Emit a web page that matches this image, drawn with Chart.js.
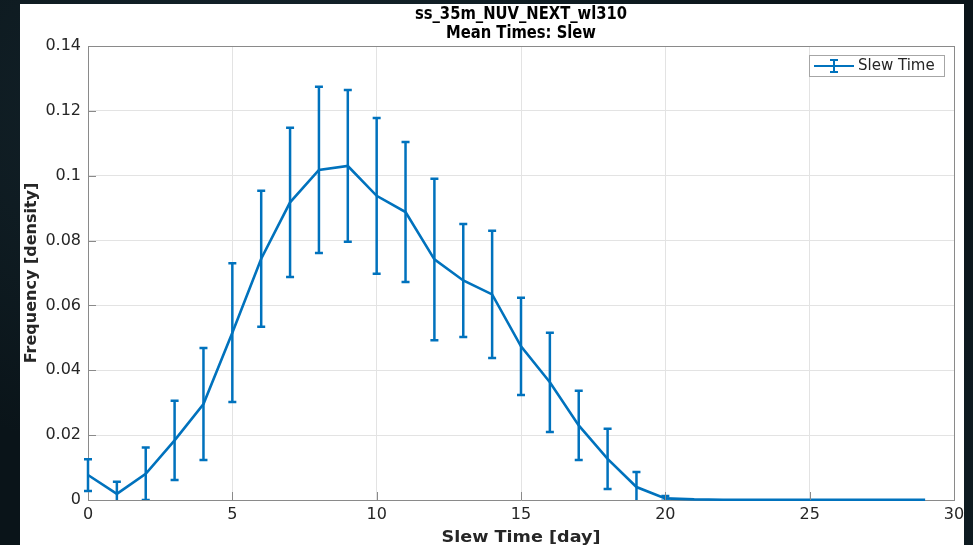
<!DOCTYPE html>
<html>
<head>
<meta charset="utf-8">
<title>ss_35m_NUV_NEXT_wl310 — Mean Times: Slew</title>
<script src="https://cdn.jsdelivr.net/npm/chart.js@4.4.1/dist/chart.umd.min.js"></script>
<style>
  html, body { margin: 0; padding: 0; width: 973px; height: 545px; overflow: hidden; }
  body {
    background:
      radial-gradient(ellipse at 30% 20%, rgba(30, 52, 62, 0.55), rgba(0,0,0,0) 60%),
      radial-gradient(ellipse at 80% 90%, rgba(22, 40, 48, 0.5), rgba(0,0,0,0) 55%),
      #0a1419;
    position: relative;
  }
  #sheet { position: absolute; left: 20px; top: 4px; width: 944px; height: 541px; background: #ffffff; }
  #wrap { position: absolute; left: 0; top: 0; width: 973px; height: 545px; }
</style>
</head>
<body>
<div id="sheet"></div>
<div id="wrap"><canvas id="chart" width="973" height="545"></canvas></div>
<script>
// Slew time histogram (density) with one-sigma spread per day bin
const days = [0, 1, 2, 3, 4, 5, 6, 7, 8, 9, 10, 11, 12, 13, 14, 15, 16, 17, 18, 19, 20, 21, 22, 23, 24, 25, 26, 27, 28, 29];
const meanFreq = [0.0077, 0.0019, 0.0081, 0.0184, 0.0296, 0.0516, 0.0744, 0.0918, 0.1018, 0.1030,
                  0.0938, 0.0888, 0.0742, 0.0677, 0.0634, 0.0474, 0.0363, 0.0230, 0.0127, 0.0040,
                  0.0005, 0.0002, 0.0001, 0.0001, 0.0001, 0.0001, 0.0001, 0.0001, 0.0001, 0.0001];
const spread = [0.0049, 0.0037, 0.0081, 0.0122, 0.0173, 0.0214, 0.0210, 0.0230, 0.0256, 0.0234,
                0.0240, 0.0216, 0.0249, 0.0174, 0.0196, 0.0150, 0.0153, 0.0107, 0.0093, 0.0046,
                0.0007, 0, 0, 0, 0, 0, 0, 0, 0, 0];
const xTicks = [0, 5, 10, 15, 20, 25, 30];
const yTicks = [0, 0.02, 0.04, 0.06, 0.08, 0.1, 0.12, 0.14];

const figTitle = ['ss_35m_NUV_NEXT_wl310', 'Mean Times: Slew'];
const xLabel = 'Slew Time [day]';
const yLabel = 'Frequency [density]';
const seriesName = 'Slew Time';

const BLUE = '#0072BD';
const AXIS = '#8a8a8a';
const TEXT = '#262626';

const points = days.map((d, i) => ({ x: d, y: meanFreq[i] }));

// Error bars, inner tick marks, figure titles and the boxed legend
const decorations = {
  id: 'decorations',
  afterDatasetsDraw(chart) {
    const { ctx, chartArea: a, scales: { x, y } } = chart;

    // vertical error bars with caps (bars are cut at the zero line)
    ctx.save();
    ctx.beginPath();
    ctx.rect(a.left - 6, a.top - 2, a.right - a.left + 12, a.bottom - a.top + 2);
    ctx.clip();
    ctx.strokeStyle = BLUE;
    ctx.lineWidth = 2.5;
    ctx.lineCap = 'butt';
    days.forEach((d, i) => {
      if (!spread[i]) return;
      const px = x.getPixelForValue(d);
      const yTop = y.getPixelForValue(meanFreq[i] + spread[i]);
      const yBot = y.getPixelForValue(meanFreq[i] - spread[i]);
      ctx.beginPath();
      ctx.moveTo(px, yTop); ctx.lineTo(px, yBot);
      ctx.moveTo(px - 4, yTop); ctx.lineTo(px + 4, yTop);
      ctx.moveTo(px - 4, yBot); ctx.lineTo(px + 4, yBot);
      ctx.stroke();
    });
    ctx.restore();

    // inward tick marks
    ctx.save();
    ctx.strokeStyle = AXIS;
    ctx.lineWidth = 1;
    xTicks.forEach(t => {
      const px = Math.round(x.getPixelForValue(t)) + 0.5;
      ctx.beginPath(); ctx.moveTo(px, a.bottom); ctx.lineTo(px, a.bottom - 8); ctx.stroke();
    });
    yTicks.forEach(t => {
      const py = Math.round(y.getPixelForValue(t)) + 0.5;
      ctx.beginPath(); ctx.moveTo(a.left, py); ctx.lineTo(a.left + 8, py); ctx.stroke();
    });
    ctx.restore();

    // figure title: two bold, slightly condensed lines
    const cx = (a.left + a.right) / 2;
    ctx.save();
    ctx.fillStyle = '#000000';
    ctx.textAlign = 'center';
    ctx.textBaseline = 'alphabetic';
    ctx.font = 'bold 18px "DejaVu Sans", sans-serif';
    ctx.translate(cx, 0);
    ctx.scale(0.82, 1);
    ctx.fillText(figTitle[0], 0, 19);
    ctx.fillText(figTitle[1], 0, 38);
    ctx.restore();

    // axis labels
    ctx.save();
    ctx.fillStyle = TEXT;
    ctx.textAlign = 'center';
    ctx.font = 'bold 16px "DejaVu Sans", sans-serif';
    ctx.save();
    ctx.translate(cx, 0);
    ctx.scale(1.1, 1);
    ctx.fillText(xLabel, 0, 542);
    ctx.restore();
    ctx.translate(36, (a.top + a.bottom) / 2);
    ctx.rotate(-Math.PI / 2);
    ctx.fillText(yLabel, 0, 0);
    ctx.restore();

    // legend box
    ctx.save();
    const lx = 809, ly = 55, lw = 135, lh = 21;
    ctx.fillStyle = '#ffffff';
    ctx.fillRect(lx, ly, lw, lh);
    ctx.strokeStyle = '#a6a6a6';
    ctx.lineWidth = 1;
    ctx.strokeRect(lx + 0.5, ly + 0.5, lw, lh);
    const my = ly + lh / 2 + 0.5;
    ctx.strokeStyle = BLUE;
    ctx.lineWidth = 2;
    ctx.beginPath();
    ctx.moveTo(lx + 5, my); ctx.lineTo(lx + 45, my);
    ctx.moveTo(lx + 25, my - 6); ctx.lineTo(lx + 25, my + 6);
    ctx.moveTo(lx + 21, my - 6); ctx.lineTo(lx + 29, my - 6);
    ctx.moveTo(lx + 21, my + 6); ctx.lineTo(lx + 29, my + 6);
    ctx.stroke();
    ctx.fillStyle = TEXT;
    ctx.font = '15px "DejaVu Sans", sans-serif';
    ctx.textAlign = 'left';
    ctx.textBaseline = 'middle';
    ctx.fillText(seriesName, lx + 49, my);
    ctx.restore();
  }
};

new Chart(document.getElementById('chart'), {
  type: 'line',
  data: {
    datasets: [{
      label: seriesName,
      data: points,
      borderColor: BLUE,
      backgroundColor: BLUE,
      borderWidth: 2.6,
      pointRadius: 0,
      tension: 0,
      clip: 2
    }]
  },
  options: {
    responsive: false,
    animation: false,
    devicePixelRatio: 1,
    layout: { padding: { left: 0, right: 19, top: 46, bottom: 0 } },
    plugins: { legend: { display: false }, title: { display: false }, tooltip: { enabled: false } },
    scales: {
      x: {
        type: 'linear',
        min: 0, max: 30,
        afterFit(s) { s.height = 45; },
        afterBuildTicks(s) { s.ticks = xTicks.map(v => ({ value: v })); },
        ticks: { color: TEXT, font: { family: 'DejaVu Sans', size: 16 }, padding: 5, maxRotation: 0 },
        grid: { color: '#e3e3e3', lineWidth: 1, drawTicks: false },
        border: { color: AXIS, width: 1 }
      },
      y: {
        type: 'linear',
        min: 0, max: 0.14,
        afterFit(s) { s.width = 88; },
        afterBuildTicks(s) { s.ticks = yTicks.map(v => ({ value: v })); },
        ticks: {
          color: TEXT, font: { family: 'DejaVu Sans', size: 16 }, padding: 7,
          callback: v => String(Number(v.toFixed(2)))
        },
        grid: { color: '#e3e3e3', lineWidth: 1, drawTicks: false },
        border: { color: AXIS, width: 1 }
      }
    }
  },
  plugins: [
    decorations,
    {
      id: 'frame',
      beforeDatasetsDraw(chart) {
        const { ctx, chartArea: a } = chart;
        ctx.save();
        ctx.strokeStyle = AXIS;
        ctx.lineWidth = 1;
        ctx.beginPath();
        ctx.moveTo(a.left, Math.round(a.top) + 0.5); ctx.lineTo(a.right, Math.round(a.top) + 0.5);
        ctx.moveTo(Math.round(a.right) + 0.5, a.top); ctx.lineTo(Math.round(a.right) + 0.5, a.bottom);
        ctx.stroke();
        ctx.restore();
      }
    }
  ]
});
</script>
</body>
</html>
